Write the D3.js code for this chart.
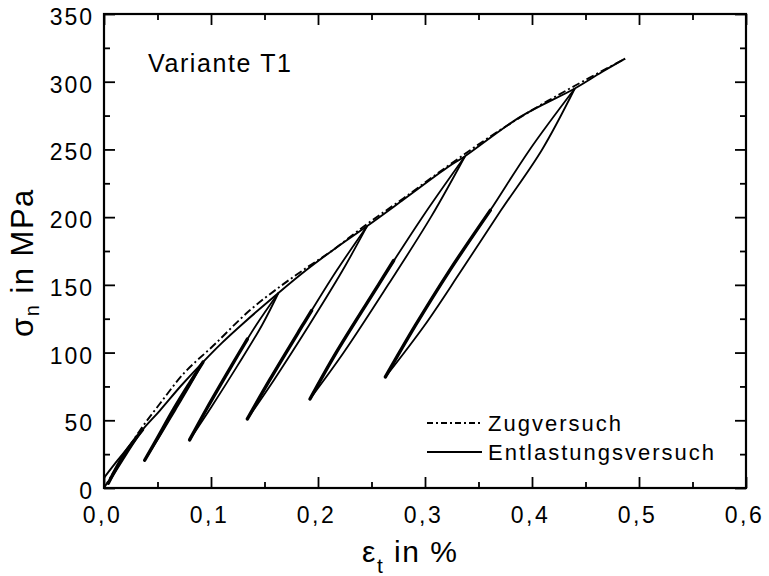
<!DOCTYPE html>
<html>
<head>
<meta charset="utf-8">
<script src="https://cdn.jsdelivr.net/npm/d3@7"></script>
<style>
  body { margin: 0; background: #fff; }
  svg { display: block; font-family: "Liberation Sans", Arial, Helvetica, sans-serif; }
</style>
</head>
<body>
<svg id="chart" width="769" height="576"></svg>
<script>
// ---------- data ----------
const xTicks = [0, 0.1, 0.2, 0.3, 0.4, 0.5, 0.6];
const xTickLabels = ["0,0", "0,1", "0,2", "0,3", "0,4", "0,5", "0,6"];
const xMinorTicks = [0.05, 0.15, 0.25, 0.35, 0.45, 0.55];
const yTicks = [0, 50, 100, 150, 200, 250, 300, 350];
const yTickLabels = ["0", "50", "100", "150", "200", "250", "300", "350"];
const yMinorTicks = [25, 75, 125, 175, 225, 275, 325];

// Zugversuch (tensile test), strain in %, stress in MPa
const zugStrain = [0, 0.017, 0.034, 0.052, 0.075, 0.102, 0.136, 0.165, 0.19, 0.211, 0.246, 0.28, 0.32, 0.36, 0.40, 0.44, 0.487];
const zugStress = [0, 22, 43, 62, 85, 105, 131, 149, 163, 174, 195, 214, 237, 259, 279, 297, 317];

// Entlastungsversuch: loading envelope
const envStrain = [0, 0.013, 0.036, 0.052, 0.072, 0.0925, 0.11, 0.13, 0.163, 0.19, 0.218, 0.246, 0.28, 0.3215, 0.3374, 0.389, 0.44, 0.465, 0.487];
const envStress = [7.5, 20.7, 43, 57, 75.5, 93, 107, 121.5, 144, 161.5, 178, 193.5, 213, 237, 245, 274, 295, 307, 317];

// unloading branches [strain, stress] from peak to minimum
const unload1 = [[0.036, 43], [0.021, 25], [0.004, 3.5]];
const unload2 = [[0.0925, 93], [0.082, 78], [0.067, 58], [0.0512, 37], [0.038, 20.5]];
const unload3 = [[0.163, 144], [0.1475, 120], [0.1245, 90], [0.1005, 60], [0.080, 35.5]];
const unload4 = [[0.246, 193.5], [0.2225, 160], [0.1915, 120], [0.159, 80], [0.134, 51]];
const unload5 = [[0.3374, 245], [0.3055, 200], [0.2655, 150], [0.224, 100], [0.1925, 65.7]];
const unload6 = [[0.44, 295], [0.4095, 250], [0.371, 205], [0.3335, 160], [0.2995, 120], [0.263, 82]];

// reloading branches from minimum back to peak
const reload1 = [[0.004, 3.5], [0.019, 25], [0.036, 43]];
const reload2 = [[0.038, 20.5], [0.05, 37], [0.065, 58], [0.0805, 78], [0.0925, 93]];
const reload3 = [[0.080, 35.5], [0.097, 60], [0.119, 90], [0.142, 120], [0.163, 144]];
const reload4 = [[0.134, 51], [0.155, 80], [0.1855, 120], [0.217, 160], [0.246, 193.5]];
const reload5 = [[0.1925, 65.7], [0.217, 100], [0.2565, 150], [0.2975, 200], [0.3374, 245]];
const reload6 = [[0.263, 82], [0.291, 120], [0.3225, 160], [0.361, 205], [0.398, 250], [0.44, 295]];

// repeated partial cycles (appear as thick strokes)
const repeat1 = [[0.004, 3.5], [0.019, 25], [0.036, 43]];
const repeat2 = [[0.038, 20.5], [0.05, 37], [0.065, 58], [0.0805, 78], [0.0925, 93]];
const repeat3 = [[0.080, 35.5], [0.097, 60], [0.119, 90], [0.134, 110]];
const repeat4 = [[0.134, 51], [0.155, 80], [0.1855, 120], [0.194, 131]];
const repeat5 = [[0.1925, 65.7], [0.217, 100], [0.2565, 150], [0.2707, 168]];
const repeat6 = [[0.263, 82], [0.291, 120], [0.3225, 160], [0.361, 205]];

const legendLabels = ["Zugversuch", "Entlastungsversuch"];
const titleText = "Variante T1";

// ---------- layout ----------
const svg = d3.select("#chart");
const x = d3.scaleLinear().domain([0, 0.6]).range([104, 746]);
const y = d3.scaleLinear().domain([0, 350]).range([488, 14]);
const line = d3.line().x(d => x(d[0])).y(d => y(d[1])).curve(d3.curveCatmullRom.alpha(0.5));

const plot = svg.append("g");

// Zugversuch dash-dot
plot.append("path")
  .datum(d3.zip(zugStrain, zugStress))
  .attr("d", line)
  .attr("fill", "none").attr("stroke", "#000").attr("stroke-width", 1.9)
  .attr("stroke-dasharray", "8,3,2,3");

// Envelope
plot.append("path")
  .datum(d3.zip(envStrain, envStress))
  .attr("d", line)
  .attr("fill", "none").attr("stroke", "#000").attr("stroke-width", 1.9);

[unload1, unload2, unload3, unload4, unload5, unload6,
 reload1, reload2, reload3, reload4, reload5, reload6].forEach(b => {
  plot.append("path").datum(b).attr("d", line)
    .attr("fill", "none").attr("stroke", "#000").attr("stroke-width", 1.8);
});
[repeat1, repeat2, repeat3, repeat4, repeat5, repeat6].forEach(b => {
  plot.append("path").datum(b).attr("d", line)
    .attr("fill", "none").attr("stroke", "#000").attr("stroke-width", 3.4)
    .attr("stroke-linecap", "round");
});

// ---------- axes ----------
const axG = svg.append("g");
function ticks(gen, vals, size) {
  const g = axG.append("g").call(gen.tickValues(vals).tickSize(size).tickFormat(""));
  g.select(".domain").remove();
  g.selectAll("line").attr("stroke", "#000").attr("stroke-width", 1.8);
  return g;
}
ticks(d3.axisBottom(x), xTicks, -11).attr("transform", `translate(0,${y(0)})`);
ticks(d3.axisBottom(x), xMinorTicks, -6).attr("transform", `translate(0,${y(0)})`);
ticks(d3.axisTop(x), xTicks, -11).attr("transform", `translate(0,${y(350)})`);
ticks(d3.axisTop(x), xMinorTicks, -6).attr("transform", `translate(0,${y(350)})`);
ticks(d3.axisLeft(y), yTicks, -11).attr("transform", `translate(${x(0)},0)`);
ticks(d3.axisLeft(y), yMinorTicks, -6).attr("transform", `translate(${x(0)},0)`);
ticks(d3.axisRight(y), yTicks, -11).attr("transform", `translate(${x(0.6)},0)`);
ticks(d3.axisRight(y), yMinorTicks, -6).attr("transform", `translate(${x(0.6)},0)`);

// frame
axG.append("rect")
  .attr("x", x(0)).attr("y", y(350))
  .attr("width", x(0.6) - x(0)).attr("height", y(0) - y(350))
  .attr("fill", "none").attr("stroke", "#000").attr("stroke-width", 2.2);

// tick labels
svg.append("g").selectAll("text").data(xTicks).join("text")
  .attr("x", d => x(d) - 1.5).attr("y", 523)
  .attr("text-anchor", "middle").attr("font-size", 23)
  .style("letter-spacing", "2.5px")
  .text((d, i) => xTickLabels[i]);
svg.append("g").selectAll("text").data(yTicks).join("text")
  .attr("x", 94).attr("y", d => y(d) + 11)
  .attr("text-anchor", "end").attr("font-size", 23)
  .style("letter-spacing", "2px")
  .text((d, i) => yTickLabels[i]);

// axis titles
const xt = svg.append("text").attr("x", 362).attr("y", 562)
  .attr("font-size", 30).style("letter-spacing", "1.5px");
xt.append("tspan").text("\u03b5");
xt.append("tspan").attr("font-size", 21).attr("dy", 11).text("t");
xt.append("tspan").attr("dy", -11).text(" in %");

const yt = svg.append("text").attr("transform", "translate(33,337) rotate(-90)")
  .attr("font-size", 31).style("letter-spacing", "1.5px");
yt.append("tspan").text("\u03c3");
yt.append("tspan").attr("font-size", 20).attr("dy", 6).text("n");
yt.append("tspan").attr("dy", -6).text(" in MPa");

// panel title
svg.append("text").attr("x", 148).attr("y", 72)
  .attr("font-size", 25).style("letter-spacing", "1.6px").text(titleText);

// legend
const lg = svg.append("g");
const legendY = [423, 452];
lg.append("line").attr("x1", 427).attr("x2", 482).attr("y1", legendY[0]).attr("y2", legendY[0])
  .attr("stroke", "#000").attr("stroke-width", 1.8).attr("stroke-dasharray", "6,3,2,3");
lg.append("line").attr("x1", 427).attr("x2", 482).attr("y1", legendY[1]).attr("y2", legendY[1])
  .attr("stroke", "#000").attr("stroke-width", 1.8);
lg.selectAll("text").data(legendLabels).join("text")
  .attr("x", 488).attr("y", (d, i) => legendY[i] + 7.5)
  .attr("font-size", 22).style("letter-spacing", "2px")
  .text(d => d);
</script>
</body>
</html>
